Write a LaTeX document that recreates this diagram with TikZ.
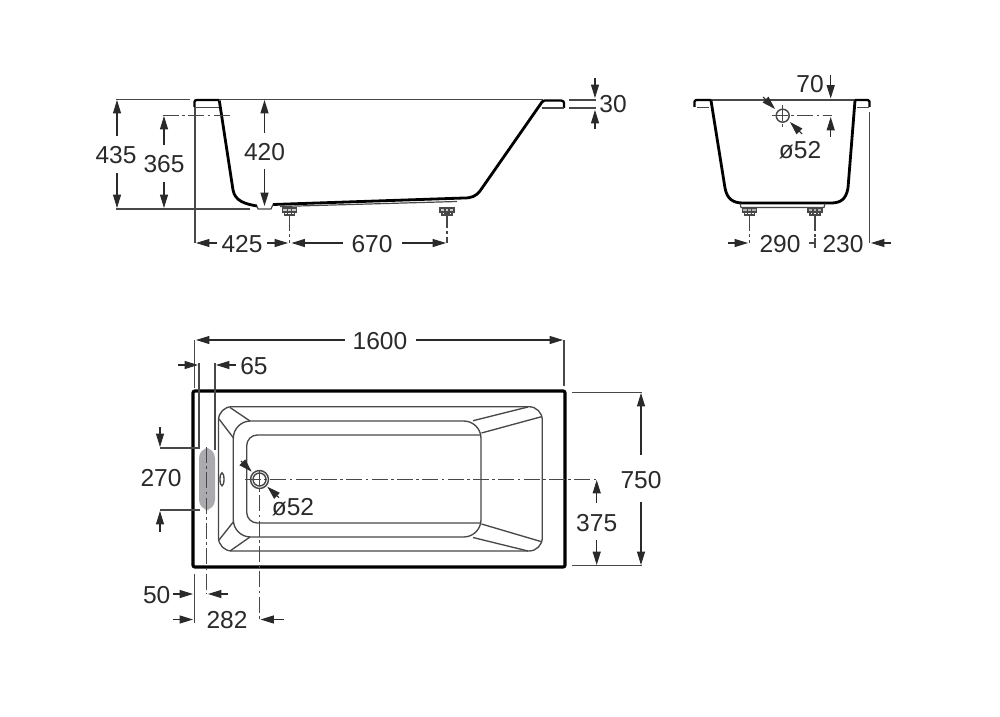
\documentclass[tikz,border=0pt]{standalone}
\usepackage{fontspec}
\setmainfont{Liberation Sans}
\usetikzlibrary{arrows.meta}
\definecolor{ink}{HTML}{2A2A2A}
\definecolor{thin}{HTML}{484848}
\definecolor{grip}{HTML}{ABABAF}
\tikzset{
  dimtext/.style={text=ink,font=\fontsize{18.4}{20}\selectfont,inner sep=0pt},
  dimarr/.style={draw=ink,line width=0.8pt,-{Triangle[length=10pt,width=6pt]}},
  extline/.style={draw=thin,line width=0.95pt},
  dashdot/.style={draw=thin,line width=0.95pt,dash pattern=on 12pt off 2.5pt on 2pt off 2.5pt},
  shell/.style={draw=black,line width=2.1pt,line join=round},
  rim/.style={draw=black,line width=1.7pt,line join=round},
  fine/.style={draw=thin,line width=0.9pt},
  plan/.style={draw=thin,line width=1pt},
}
\begin{document}
\begin{tikzpicture}[x=0.75pt,y=-0.75pt]
\useasboundingbox (0,0) rectangle (1000,717);
\fill[white] (0,0) rectangle (1000,717);

% ---------- side view ----------
\draw[extline] (116,99.5) -- (190,99.5);
\draw[extline] (219,99.5) -- (543,99.5);
\draw[extline] (116,209) -- (250,209);
\draw[rim] (194.5,107) -- (194.5,102) .. controls (194.5,100.5) and (195.5,100) .. (197,100) -- (219,100);
\draw[fine] (194.5,107.5) -- (219,107.5);
\draw[shell] (219.3,100.5) -- (233,190) .. controls (235,201) and (245,204) .. (257,206);
\draw[shell] (273,204.5) -- (464,198) .. controls (472,198) and (476,196) .. (480,191) -- (542,102) -- (544,100.5);
\draw[rim] (544,100.5) -- (561,100.5) .. controls (563,100.5) and (564,101.5) .. (564,103) -- (564,108);
\draw[fine] (541.5,108) -- (564,108);
\draw[fine] (257,206) -- (258,209) -- (271,209) -- (273,204.5);
\draw[fine] (280,206.5) -- (457,201.5);
\foreach \cx in {289.5,447}{
  \draw[fine,fill=white!80!black] (\cx-7,208) rectangle (\cx+7,212);
  \draw[fine] (\cx-5,212) -- (\cx-5,215) -- (\cx+5,215) -- (\cx+5,212);
  \draw[fine] (\cx-2,209) -- (\cx-2,215) (\cx+2,209) -- (\cx+2,215);
}
\draw[extline] (195,107) -- (195,243);
\draw[dashdot] (163,115.5) -- (230,115.5);
\draw[dashdot] (289.5,215) -- (289.5,243);
\draw[dashdot] (447,212) -- (447,243);
\draw[dimarr] (117,136) -- (117,100);
\draw[dimarr] (117,173) -- (117,208);
\node[dimtext] (d435) at (116,155) {435};
\draw[dimarr] (164,145) -- (164,116);
\draw[dimarr] (164,182) -- (164,208);
\node[dimtext] (d365) at (164,164) {365};
\draw[dimarr] (264.5,133) -- (264.5,100);
\draw[dimarr] (264.5,169) -- (264.5,206);
\node[dimtext] (d420) at (264.5,152) {420};
\draw[dimarr] (217,243) -- (196,243);
\node[dimtext] (d425) at (242,244) {425};
\draw[dimarr] (267,243) -- (288,243);
\draw[dimarr] (343,243) -- (291.5,243);
\node[dimtext] (d670) at (372,244) {670};
\draw[dimarr] (402,243) -- (446,243);
\draw[extline] (569,100) -- (596,100);
\draw[extline] (569,108) -- (596,108);
\draw[dimarr] (595,78) -- (595,98);
\draw[dimarr] (595,129) -- (595,110);
\node[dimtext] (d30) at (613,104) {30};

% ---------- end view ----------
\draw[extline] (711,100) -- (855,100);
\draw[rim] (694.5,107) -- (694.5,101.5) .. controls (694.5,100.5) and (695,100) .. (696,100) -- (711,100);
\draw[rim] (855,100) -- (868,100) .. controls (869,100) and (869.5,100.5) .. (869.5,101.5) -- (869.5,107);
\draw[fine] (697,107.5) -- (709,107.5);
\draw[fine] (857,107.5) -- (869,107.5);
\draw[shell] (711,100.5) -- (725,188) .. controls (727,199) and (733,203) .. (743,203) -- (831,203) .. controls (841,203) and (846,199) .. (848,188) -- (855,100.5);
\draw[fine] (740,203.5) -- (741,207.5) -- (824,207.5) -- (825,203.5);
\foreach \cx in {749.5,815}{
  \draw[fine,fill=white!70!black] (\cx-7,208) rectangle (\cx+7,212);
  \draw[fine] (\cx-5,212) -- (\cx-5,215) -- (\cx+5,215) -- (\cx+5,212);
  \draw[fine] (\cx-2,209) -- (\cx-2,215) (\cx+2,209) -- (\cx+2,215);
}
\draw[dashdot] (749.5,215) -- (749.5,243);
\draw[dashdot] (815,215) -- (815,243);
\draw[fine,line width=1.1pt] (782.7,115.7) circle[radius=6.5];
\draw[dashdot] (772,115.7) -- (831.7,115.7);
\draw[dashdot] (782.7,105) -- (782.7,127);
\draw[dimarr] (763,97) -- (775,109);
\draw[dimarr] (802,134) -- (790,122);
\node[dimtext] (d52a) at (800,150) {ø52};
\draw[dimarr] (830.7,75) -- (830.7,98.5);
\draw[dimarr] (830.7,137) -- (830.7,117);
\node[dimtext] (d70) at (810,84) {70};
\draw[extline] (869.5,112) -- (869.5,243);
\draw[dimarr] (728,243) -- (748,243);
\node[dimtext] (d290) at (780,244) {290};
\draw[extline] (809,243) -- (814,243);
\draw[extline] (815,238) -- (815,248);
\node[dimtext] (d230) at (843,244) {230};
\draw[dimarr] (891,243) -- (871,243);

% ---------- plan view ----------
\draw[draw=black,line width=2.4pt,rounded corners=1.5pt] (193,391) rectangle (565,567);
\draw[plan,rounded corners=10] (218.5,406.7) rectangle (542.3,551);
\draw[plan,rounded corners=13] (233.3,421) rectangle (481,537);
\draw[plan,rounded corners=8] (481,523) -- (246.7,523) -- (246.7,435) -- (481,435);
\draw[plan] (473,420.7) -- (528,407);
\draw[plan] (481.5,433) -- (541.5,416.7);
\draw[plan] (481.5,524) -- (541.5,541.7);
\draw[plan] (473,537.5) -- (528,551);
\draw[plan] (230,407.5) -- (250,421);
\draw[plan] (219,419) -- (233.5,438);
\draw[plan] (219,540) -- (233.5,521.7);
\draw[plan] (230,551) -- (250,537);
\draw[plan] (222,479.3) ellipse[x radius=2,y radius=6.5];
\fill[grip,rounded corners=7.5pt] (199,448) rectangle (215,510);
\draw[fine,line width=1.1pt,fill=white] (259.5,479.5) circle[radius=9];
\draw[fine,line width=1.1pt] (259.5,479.5) circle[radius=6.5];
\draw[dashdot] (245,479.5) -- (597,479.5);
\draw[dashdot] (259.5,470) -- (259.5,620);
\draw[dashdot] (206.7,447) -- (206.7,594);
\draw[extline] (194.5,340) -- (194.5,388);
\draw[extline] (564,340) -- (564,386);
\draw[dimarr] (345,340) -- (196,340);
\node[dimtext] (d1600) at (380,341) {1600};
\draw[dimarr] (416,340) -- (563,340);
\draw[extline] (199,363) -- (199,448);
\draw[extline] (215,363) -- (215,450);
\draw[dimarr] (178,365) -- (198,365);
\draw[dimarr] (236,365) -- (216,365);
\node[dimtext] (d65) at (254,366) {65};
\draw[extline] (160,448) -- (200,448);
\draw[extline] (160,510) -- (200,510);
\draw[dimarr] (160,427) -- (160,447);
\draw[dimarr] (160,532) -- (160,511);
\node[dimtext] (d270) at (161,478) {270};
\draw[dimarr] (241,461) -- (251.7,471.7);
\draw[dimarr] (279,497.7) -- (267.3,486.7);
\node[dimtext] (d52b) at (293,507) {ø52};
\draw[extline] (194.3,574) -- (194.3,623);
\draw[dimarr] (173,594) -- (193,594);
\node[dimtext] (d50) at (156.7,595) {50};
\draw[dimarr] (228,594) -- (208,594);
\draw[dimarr] (172.7,619.5) -- (193,619.5);
\node[dimtext] (d282) at (227,620.5) {282};
\draw[dimarr] (284,619.5) -- (260.5,619.5);
\draw[extline] (572,392.3) -- (641.7,392.3);
\draw[extline] (572,565.7) -- (641.7,565.7);
\draw[dimarr] (641,455) -- (641,393);
\node[dimtext] (d750) at (641,480) {750};
\draw[dimarr] (641,502) -- (641,565);
\draw[dimarr] (596.7,503) -- (596.7,480);
\node[dimtext] (d375) at (596.7,523) {375};
\draw[dimarr] (596.7,540) -- (596.7,565);
\end{tikzpicture}
\end{document}
